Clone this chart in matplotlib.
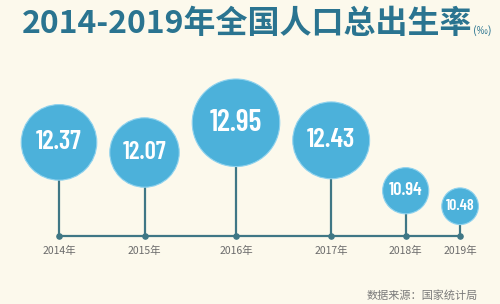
import matplotlib
matplotlib.use("Agg")
import matplotlib.pyplot as plt
from matplotlib import font_manager
import numpy as np

# -------------------- Data --------------------------
years = ["2014年", "2015年", "2016年", "2017年", "2018年", "2019年"]
birth_rate = [12.37, 12.07, 12.95, 12.43, 10.94, 10.48]

title_text = "2014-2019年全国人口总出生率"
unit_text = "(‰)"
source_text = "数据来源：国家统计局"

# -------------------- Style --------------------------
BG = "#fcf9ec"
TITLE_C = "#2a7490"
BUBBLE_C = "#4cb1da"
BUBBLE_EDGE = "#8fd2ee"
AXIS_C = "#3f7785"
LABEL_C = "#6b6b6b"

CJK = ["Noto Sans CJK SC", "DejaVu Sans"]
names = {f.name for f in font_manager.fontManager.ttflist}
NUM_FONT = next((n for n in ["Barlow Condensed", "Asap Condensed", "Archivo Narrow"]
                 if n in names), "DejaVu Sans")
plt.rcParams["font.family"] = CJK

W, H, DPI = 500, 304, 100
BASE_VAL = 9.6        # value sitting on the time axis
PX_PER_UNIT = 33.8    # vertical pixels per 1 ‰
R_PER_UNIT = 10.3     # bubble radius (px) per 1 ‰ above R_ZERO
R_ZERO = 8.7
GAP = 13              # pixels between neighbouring bubbles
X_START = 59
AXIS_Y_PX = 236       # axis height, pixels from top

vals = np.array(birth_rate)
radii = R_PER_UNIT * (vals - R_ZERO)

# pack bubbles side by side with a constant gap
xs = [X_START]
for i in range(1, len(vals)):
    xs.append(xs[-1] + radii[i - 1] + radii[i] + GAP)
xs = np.array(xs)

fig = plt.figure(figsize=(W / DPI, H / DPI), dpi=DPI, facecolor=BG)
ax = fig.add_axes([0, 0, 1, 1])
ax.set_facecolor(BG)
ax.set_xlim(0, W)
y_low = BASE_VAL - (H - AXIS_Y_PX) / PX_PER_UNIT
ax.set_ylim(y_low, y_low + H / PX_PER_UNIT)
ax.axis("off")

# axis line, stems, tick dots
ax.hlines(BASE_VAL, xs[0], xs[-1], color=AXIS_C, linewidth=1.6, zorder=1)
ax.vlines(xs, BASE_VAL, vals, color=AXIS_C, linewidth=1.6, zorder=1)
ax.scatter(xs, [BASE_VAL] * len(xs), s=14, color=AXIS_C, zorder=2)

# bubbles: scatter size is in points^2, diameter in px -> pt
sizes = (2 * radii * 72 / DPI) ** 2
ax.scatter(xs, vals, s=sizes, color=BUBBLE_C, edgecolor=BUBBLE_EDGE,
           linewidth=0.8, zorder=3)

for x, v, r in zip(xs, vals, radii):
    ax.text(x, v, f"{v:.2f}", ha="center", va="center",
            fontsize=0.4 * r + 4, fontweight="semibold", color="white",
            family=NUM_FONT, zorder=4)

for x, lab in zip(xs, years):
    ax.annotate(lab, xy=(x, BASE_VAL), xytext=(0, -7),
                textcoords="offset points", ha="center", va="top",
                fontsize=7.5, color=LABEL_C)

# title with small unit
t = fig.text(22 / W, 1 - 24 / H, title_text, ha="left", va="center",
             fontsize=23, fontweight="bold", color=TITLE_C)
fig.canvas.draw()
bb = t.get_window_extent()
fig.text(bb.x1 / W + 0.002, bb.y0 / H + 0.012, unit_text, ha="left",
         va="bottom", fontsize=8, color=TITLE_C)

fig.text(478 / W, 1 - 295 / H, source_text, ha="right", va="center",
         fontsize=8, color="#7a7a7a")

fig.savefig("out.png", dpi=DPI, facecolor=BG)
